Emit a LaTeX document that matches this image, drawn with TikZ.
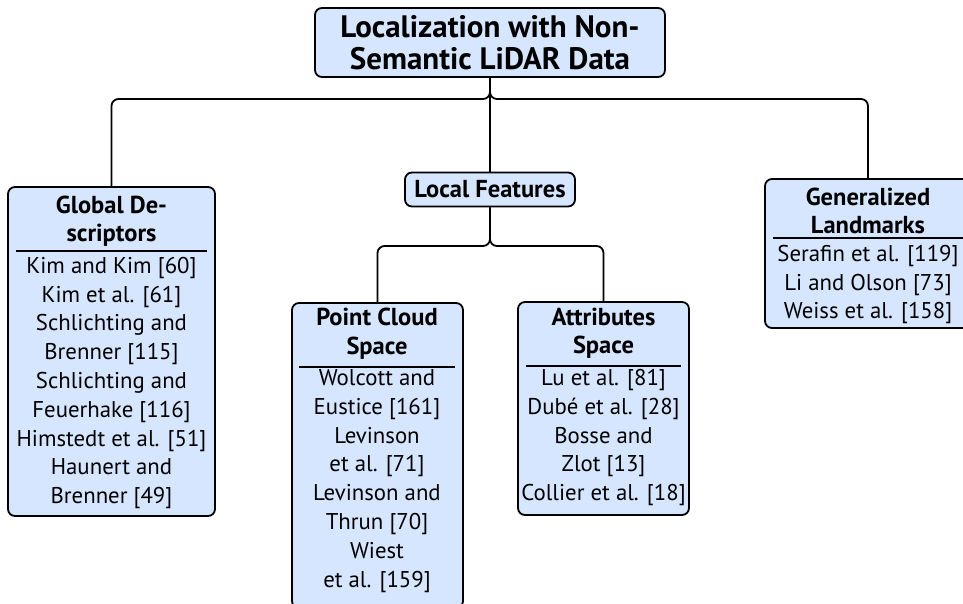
\documentclass[tikz,border=0pt]{standalone}
\usepackage{fontspec}
\setmainfont{PT Sans}
\definecolor{boxblue}{HTML}{D6E6FF}
\begin{document}
\begin{tikzpicture}[x=1pt,y=-1pt,
  box/.style={draw=black, line width=1.8pt, rounded corners=7pt, fill=boxblue, inner sep=0pt},
  conn/.style={draw=black, line width=1.8pt, rounded corners=7pt},
  sepline/.style={draw=black, line width=1.4pt},
  ttl/.style={align=center, inner sep=0pt, font=\fontsize{24.5}{28.5}\selectfont\bfseries},
  ent/.style={align=center, inner sep=0pt, font=\fontsize{22.8}{28.8}\selectfont}]
\useasboundingbox (0,0) rectangle (963,603);
\begin{scope}
\clip (0,0) rectangle (963,603);
% root
\node[box, minimum width=350pt, minimum height=69pt, align=center,
      font=\fontsize{31}{32}\selectfont\bfseries] (root) at (490,42.5)
      {Localization with Non-\\Semantic LiDAR Data};
% level 1
\node[box, minimum width=207pt, minimum height=329pt] (gd) at (111.5,351.5) {};
\node[box, minimum width=170pt, minimum height=34pt, font=\fontsize{24.5}{28}\selectfont\bfseries] (lf) at (490,189.5) {Local Features};
\node[box, minimum width=206pt, minimum height=149pt] (gl) at (868,253.5) {};
% level 2
\node[box, minimum width=171pt, minimum height=305pt] (pc) at (377.5,455.5) {};
\node[box, minimum width=171pt, minimum height=213pt] (as) at (603.5,408.5) {};

% texts GD
\node[ttl] (gdt) at (111.5,221) {Global De-\\scriptors};
\draw[sepline] (16,251) -- (207,251);
\node[ent] (gde) at (111.5,383) {Kim and Kim [60]\\Kim et al. [61]\\Schlichting and\\Brenner [115]\\Schlichting and\\Feuerhake [116]\\Himstedt et al. [51]\\Haunert and\\Brenner [49]};
% texts GL
\node[ttl] (glt) at (868,211) {Generalized\\Landmarks};
\draw[sepline] (773,238) -- (963,238);
\node[ent] (gle) at (868,284.5) {Serafin et al. [119]\\Li and Olson [73]\\Weiss et al. [158]};
% texts PC
\node[ttl] (pct) at (377,333.5) {Point Cloud\\Space};
\draw[sepline] (299,367) -- (455,367);
\node[ent] (pce) at (377,481) {Wolcott and\\Eustice [161]\\Levinson\\et al. [71]\\Levinson and\\Thrun [70]\\Wiest\\et al. [159]};
% texts AS
\node[ttl] (ast) at (603.5,333) {Attributes\\Space};
\draw[sepline] (526,366) -- (681,366);
\node[ent] (ase) at (603.5,437.5) {Lu et al. [81]\\Dubé et al. [28]\\Bosse and\\Zlot [13]\\Collier et al. [18]};

% connectors
\coordinate (j1) at (490,99);
\coordinate (j2) at (490,246);
\draw[conn] (gd.north) |- (j1) -- (root.south);
\draw[conn] (gl.north) |- (j1) -- (root.south);
\draw[conn] (root.south) -- (lf.north);
\draw[conn] (pc.north) |- (j2) -- (lf.south);
\draw[conn] (as.north) |- (j2) -- (lf.south);
\end{scope}
\end{tikzpicture}
\end{document}
